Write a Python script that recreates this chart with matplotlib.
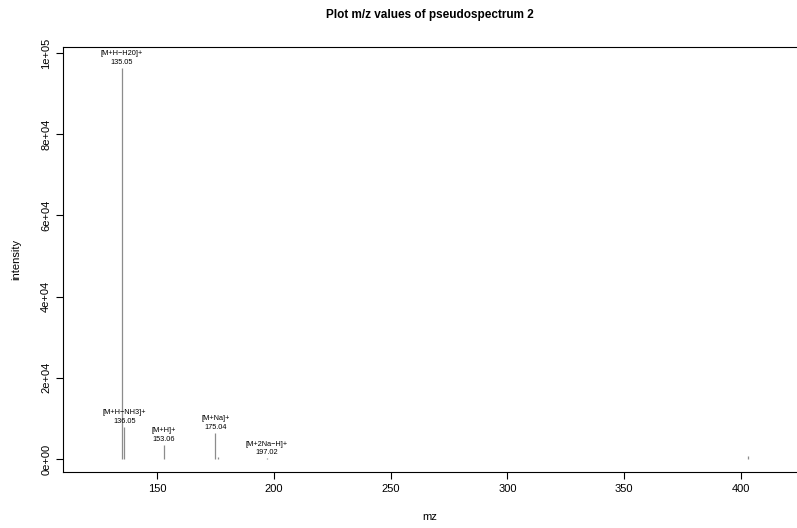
import matplotlib
matplotlib.use('Agg')
import matplotlib.pyplot as plt

plt.rcParams['font.family'] = ['Liberation Sans', 'DejaVu Sans']

# peaks of pseudospectrum 2
mz = [135.05, 136.05, 153.06, 175.04, 176.04, 197.02, 403.0]
intensity = [96300, 7900, 3400, 6400, 450, 150, 700]

# annotated peaks
ann_mz = [135.05, 136.05, 153.06, 175.04, 197.02]
ann_int = [96300, 7900, 3400, 6400, 150]
ann_name = ['[M+H−H20]+', '[M+H−NH3]+', '[M+H]+', '[M+Na]+', '[M+2Na−H]+']

xticks = [150, 200, 250, 300, 350, 400]
yticks = [0, 20000, 40000, 60000, 80000, 100000]
ytick_labels = ['0e+00', '2e+04', '4e+04', '6e+04', '8e+04', '1e+05']

fig = plt.figure(figsize=(7.97, 5.28), dpi=100)
ax = fig.add_axes([63 / 797, 56 / 528, 1 - 63 / 797, 425 / 528])

ax.vlines(mz, 0, intensity, color='#8c8c8c', lw=0.9)

for m, i, name in zip(ann_mz, ann_int, ann_name):
    ax.annotate(name + '\n' + f'{m:.2f}', (m, i), xytext=(0, 1.5),
                textcoords='offset points', ha='center', va='bottom',
                fontsize=5.3, linespacing=1.35)

ax.set_xlim(109.8, 424)
ax.set_ylim(-3200, 101500)
ax.set_xticks(xticks)
ax.set_yticks(yticks)
ax.set_yticklabels(ytick_labels, rotation=90, va='center')
ax.tick_params(length=5, width=0.8, labelsize=8, pad=3.5, colors='black')
ax.spines['right'].set_visible(False)
for s in ['left', 'bottom', 'top']:
    ax.spines[s].set_linewidth(0.8)

ax.set_xlabel('mz', fontsize=8, labelpad=13)
ax.set_ylabel('intensity', fontsize=8, labelpad=14)
ax.set_title('Plot m/z values of pseudospectrum 2', fontsize=8.5,
             fontweight='bold', pad=21)

fig.savefig('out.png', dpi=100)
